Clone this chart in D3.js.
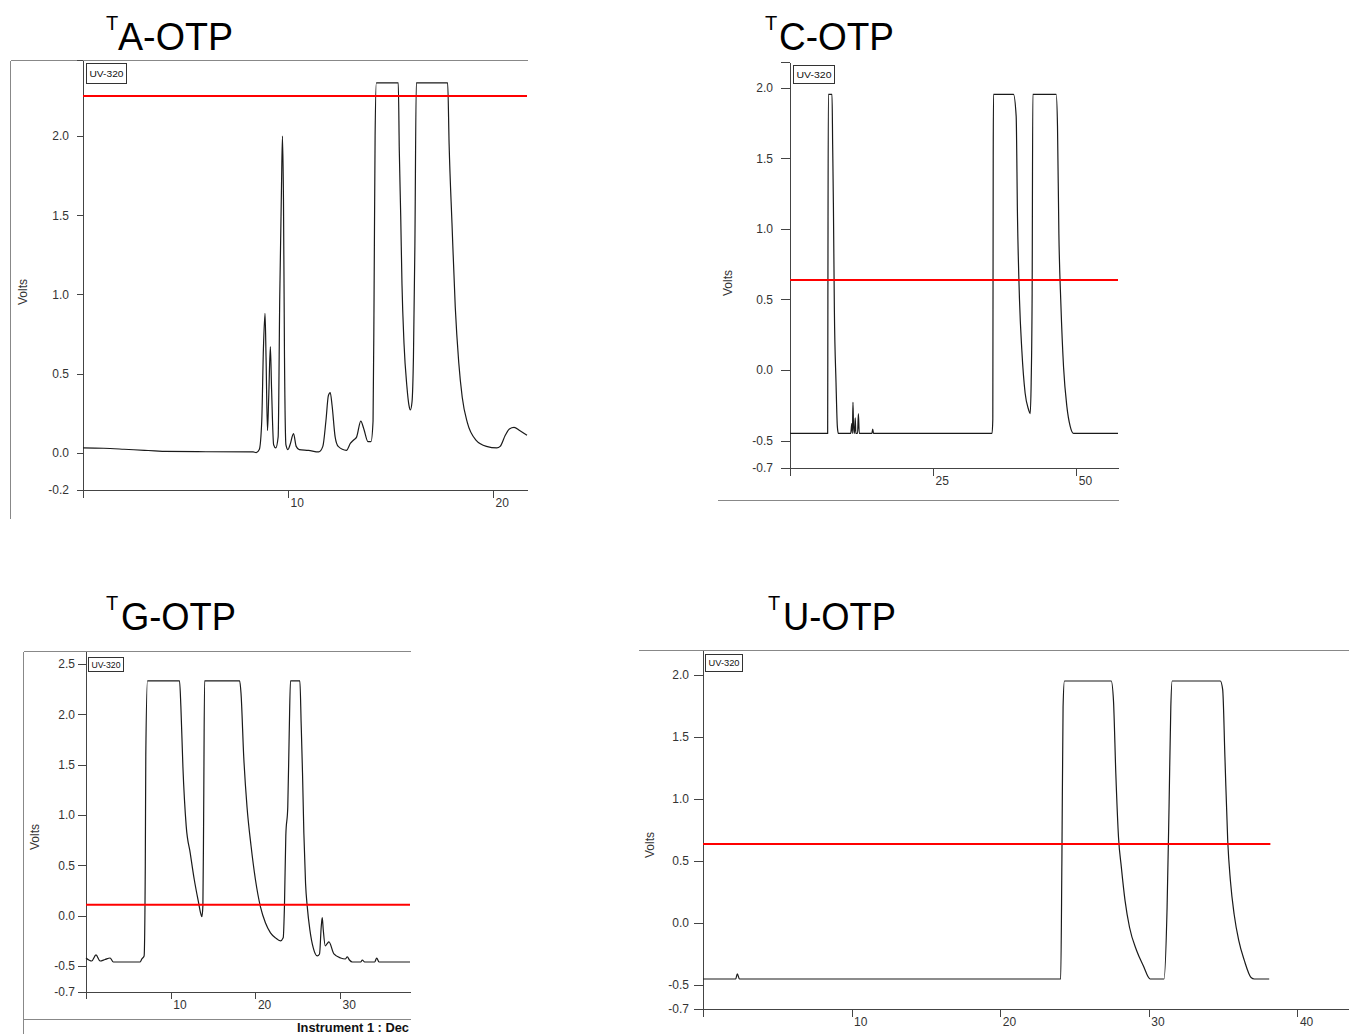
<!DOCTYPE html>
<meta charset="utf-8">
<style>
body { margin: 0; background: #fff; }
svg { display: block; font-family: "Liberation Sans", Arial, sans-serif; }
.axis path, .axis line { stroke: #444; shape-rendering: crispEdges; }
.axis text { fill: #333; font-size: 12px; font-family: "Liberation Sans", Arial, sans-serif; }
.frame { stroke: #888; stroke-width: 1px; shape-rendering: crispEdges; }
.trace { fill: none; stroke: #1a1a1a; stroke-width: 1.2px; stroke-linejoin: round; }
.cutoff { stroke: #f00; stroke-width: 2px; }
.legend rect { fill: #fff; stroke: #333; stroke-width: 1px; shape-rendering: crispEdges; }
.legend text { fill: #111; font-size: 9px; }
</style>
<svg width="1349" height="1034"></svg>
<script src="https://d3js.org/d3.v7.min.js"></script>
<script>

var titles = ["A-OTP", "C-OTP", "G-OTP", "U-OTP"];
var detector = "UV-320";
var yTitle = "Volts";
var footer = "Instrument 1 : Dec";

// [minutes, volts]
var taTrace = [[0,0.03],[1,0.028],[2,0.022],[3,0.015],[3.5,0.012],[4,0.008],[6,0.006],[8.3,0.005],[8.45,0.0],
  [8.6,0.02],[8.72,0.2],[8.8,0.65],[8.88,0.88],[8.93,0.6],[9.0,0.14],[9.06,0.35],[9.14,0.67],[9.2,0.4],[9.3,0.05],
  [9.4,0.03],[9.52,0.1],[9.6,1.0],[9.68,1.65],[9.73,2.0],[9.78,1.6],[9.83,0.6],[9.9,0.05],[10.0,0.02],[10.1,0.05],
  [10.27,0.12],[10.4,0.04],[10.55,0.02],[11.0,0.015],[11.5,0.005],[11.7,0.04],[11.85,0.2],[11.97,0.36],[12.06,0.38],
  [12.15,0.3],[12.3,0.1],[12.45,0.04],[12.85,0.015],[13.05,0.06],[13.2,0.08],[13.35,0.1],[13.55,0.2],[13.7,0.15],
  [13.9,0.07],[14.05,0.07],[14.15,0.2],[14.2,1.0],[14.25,2.0],[14.31,2.335],[15.38,2.335],[15.43,1.91],[15.5,1.49],
  [15.56,1.07],[15.66,0.69],[15.8,0.42],[15.9,0.3],[15.97,0.27],[16.05,0.32],[16.12,0.6],[16.19,1.3],[16.26,2.335],
  [17.79,2.335],[17.86,1.95],[18.0,1.45],[18.16,0.92],[18.33,0.57],[18.5,0.35],[18.75,0.19],[19.17,0.08],[19.68,0.04],
  [20.19,0.03],[20.35,0.04],[20.6,0.11],[20.8,0.15],[21.03,0.16],[21.3,0.14],[21.66,0.11]];

var tcTrace = [[0,-0.45],[6.58,-0.45],[6.62,0.5],[6.7,1.955],[7.34,1.955],[7.45,1.6],[7.58,1.18],[7.75,0.43],
  [8.04,-0.09],[8.27,-0.4],[8.45,-0.45],[10.6,-0.45],[10.8,-0.38],[10.9,-0.45],[11.0,-0.23],[11.1,-0.4],[11.25,-0.45],
  [11.4,-0.34],[11.5,-0.45],[11.8,-0.45],[11.95,-0.31],[12.1,-0.45],[14.3,-0.45],[14.45,-0.42],[14.6,-0.45],
  [35.3,-0.45],[35.43,-0.35],[35.5,1.5],[35.55,1.955],[39.04,1.955],[39.51,1.8],[39.74,1.09],[40.09,0.5],[40.5,0.14],
  [41.08,-0.165],[41.67,-0.28],[41.96,-0.31],[42.13,-0.09],[42.3,0.54],[42.42,1.955],[46.5,1.955],[46.73,1.73],
  [46.97,0.97],[47.32,0.47],[47.79,0.02],[48.37,-0.26],[48.95,-0.4],[49.53,-0.45],[57.3,-0.45]];

var tgTrace = [[0,-0.42],[0.67,-0.45],[1.18,-0.39],[1.66,-0.45],[2.25,-0.435],[2.84,-0.42],[3.23,-0.46],[6.39,-0.46],
  [6.59,-0.43],[6.86,-0.4],[7.0,0.5],[7.06,1.6],[7.26,2.334],[11.04,2.334],[11.2,2.08],[11.44,1.48],[11.83,0.89],
  [12.31,0.62],[12.78,0.36],[13.29,0.13],[13.55,0.02],[13.68,-0.01],[13.8,0.1],[13.89,1.0],[14.0,2.334],[18.14,2.334],
  [18.3,2.21],[18.62,1.58],[19.01,1.08],[19.49,0.69],[20.0,0.36],[20.59,0.09],[21.18,-0.07],[21.78,-0.17],[22.37,-0.22],
  [22.96,-0.25],[23.28,-0.22],[23.43,0.1],[23.59,0.8],[23.82,1.08],[23.99,1.81],[24.14,2.334],[25.25,2.334],[25.4,1.91],
  [25.56,1.42],[25.72,0.82],[25.92,0.32],[26.12,0.09],[26.43,-0.14],[26.83,-0.32],[27.3,-0.4],[27.57,-0.38],
  [27.77,-0.11],[27.89,-0.02],[28.01,-0.14],[28.25,-0.3],[28.45,-0.28],[28.68,-0.26],[29.27,-0.38],[30.06,-0.42],
  [30.6,-0.43],[30.85,-0.41],[31.1,-0.44],[31.44,-0.46],[32.43,-0.46],[32.62,-0.44],[32.9,-0.46],[34.08,-0.46],
  [34.32,-0.42],[34.59,-0.46],[38.25,-0.46]];

var tuTrace = [[0,-0.452],[2.2,-0.452],[2.31,-0.41],[2.45,-0.452],[24.07,-0.452],[24.15,0.5],[24.23,1.74],[24.32,1.95],
  [27.47,1.95],[27.62,1.795],[27.78,1.2],[27.96,0.69],[28.15,0.45],[28.4,0.18],[28.7,-0.035],[29.17,-0.22],
  [29.63,-0.345],[30.09,-0.452],[31.02,-0.452],[31.23,0.13],[31.36,0.93],[31.48,1.74],[31.57,1.95],[34.81,1.95],
  [34.97,1.88],[35.12,1.34],[35.31,0.66],[35.49,0.34],[35.74,0.07],[36.05,-0.14],[36.42,-0.3],[36.88,-0.44],
  [37.1,-0.452],[38.1,-0.452]];

// red threshold lines: level and end time
var cutoffLevels = [2.253, 0.638, 0.11, 0.637];
var cutoffEnds = [21.66, 57.3, 38.25, 38.18];

var taYTicks = [-0.2355, 0, 0.5, 1, 1.5, 2, 2.48];
var taYLabels = ["-0.2", "0.0", "0.5", "1.0", "1.5", "2.0", ""];
var tcYTicks = [-0.695, -0.5, 0, 0.5, 1, 1.5, 2, 2.184];
var tcYLabels = ["-0.7", "-0.5", "0.0", "0.5", "1.0", "1.5", "2.0", ""];
var tgYTicks = [-0.758, -0.5, 0, 0.5, 1, 1.5, 2, 2.5];
var tgYLabels = ["-0.7", "-0.5", "0.0", "0.5", "1.0", "1.5", "2.0", "2.5"];
var tuYTicks = [-0.694, -0.5, 0, 0.5, 1, 1.5, 2];
var tuYLabels = ["-0.7", "-0.5", "0.0", "0.5", "1.0", "1.5", "2.0"];

var taXTicks = [0, 10, 20];
var tcXTicks = [0, 25, 50];
var tgXTicks = [0, 10, 20, 30];
var tuXTicks = [0, 10, 20, 30, 40];

var svg = d3.select("svg");

var panels = [
  { title: titles[0], trace: taTrace, yTicks: taYTicks, yLabels: taYLabels, xTicks: taXTicks,
    xDomain: [0, 21.66], yDomain: [-0.2355, 2.48], left: 83, right: 527, top: 60, bottom: 490,
    ySize: 6, yPad: 8, xSize: 8,
    titleX: 118, titleY: 50, titleW: 115, supX: 106, supY: 30,
    legend: [86, 63, 40, 20], volts: [23, 292],
    frame: [[10, 60, 527, 60], [10, 60, 10, 518]] },
  { title: titles[1], trace: tcTrace, yTicks: tcYTicks, yLabels: tcYLabels, xTicks: tcXTicks,
    xDomain: [0, 57.3], yDomain: [-0.695, 2.184], left: 790, right: 1118, top: 62, bottom: 468,
    ySize: 9, yPad: 8, xSize: 8,
    titleX: 779, titleY: 50, titleW: 115, supX: 765, supY: 30,
    legend: [793, 65, 41, 18], volts: [728, 283],
    frame: [[717, 500, 1118, 500]] },
  { title: titles[2], trace: tgTrace, yTicks: tgYTicks, yLabels: tgYLabels, xTicks: tgXTicks,
    xDomain: [0, 38.25], yDomain: [-0.758, 2.63], left: 86, right: 410, top: 651, bottom: 992,
    ySize: 8, yPad: 3, xSize: 7,
    titleX: 121, titleY: 630, titleW: 115, supX: 106, supY: 610,
    legend: [88, 657, 35, 14], volts: [35, 837],
    frame: [[23, 651, 410, 651], [23, 651, 23, 1034], [23, 1019, 410, 1019]] },
  { title: titles[3], trace: tuTrace, yTicks: tuYTicks, yLabels: tuYLabels, xTicks: tuXTicks,
    xDomain: [0, 43.47], yDomain: [-0.694, 2.2], left: 703, right: 1349, top: 650, bottom: 1009,
    ySize: 9, yPad: 5, xSize: 8,
    titleX: 783, titleY: 630, titleW: 113, supX: 768, supY: 610,
    legend: [705, 654, 37, 17], volts: [650, 845],
    frame: [[638, 650, 1349, 650]] }
];

panels.forEach(drawPanel);

// status line under the G panel
svg.append("text")
    .attr("x", 297)
    .attr("y", 1032)
    .attr("textLength", 112)
    .attr("lengthAdjust", "spacingAndGlyphs")
    .style("font-size", "13px")
    .style("font-weight", "bold")
    .style("fill", "#111")
    .text(footer);

function drawPanel(p, i) {
  var x = d3.scaleLinear().domain(p.xDomain).range([p.left, p.right]);
  var y = d3.scaleLinear().domain(p.yDomain).range([p.bottom, p.top]);
  var g = svg.append("g");

  g.selectAll("line.frame")
    .data(p.frame)
    .enter().append("line")
      .attr("class", "frame")
      .attr("x1", function(d) { return d[0] + 0.5; })
      .attr("y1", function(d) { return d[1] + 0.5; })
      .attr("x2", function(d) { return d[2] + 0.5; })
      .attr("y2", function(d) { return d[3] + 0.5; });

  // title with superscript T
  g.append("text")
      .attr("x", p.supX)
      .attr("y", p.supY)
      .style("font-size", "20px")
      .style("fill", "#000")
      .text("T");
  g.append("text")
      .attr("x", p.titleX)
      .attr("y", p.titleY)
      .attr("textLength", p.titleW)
      .attr("lengthAdjust", "spacingAndGlyphs")
      .style("font-size", "39px")
      .style("fill", "#000")
      .text(p.title);

  var yAxis = d3.axisLeft(y)
      .tickValues(p.yTicks)
      .tickSize(p.ySize)
      .tickSizeOuter(0)
      .tickPadding(p.yPad)
      .tickFormat(function(d, k) { return p.yLabels[k]; });

  g.append("g")
      .attr("class", "axis")
      .attr("transform", "translate(" + p.left + ",0)")
      .call(yAxis);

  var xAxis = d3.axisBottom(x)
      .tickValues(p.xTicks)
      .tickSize(p.xSize)
      .tickSizeOuter(0)
      .tickFormat(function(d) { return d === 0 ? "" : d; });

  var xg = g.append("g")
      .attr("class", "axis")
      .attr("transform", "translate(0," + p.bottom + ")")
      .call(xAxis);
  xg.selectAll("text")
      .attr("x", 2)
      .attr("y", 8)
      .attr("text-anchor", "start");

  g.append("text")
      .attr("transform", "translate(" + p.volts[0] + "," + p.volts[1] + ") rotate(-90)")
      .attr("text-anchor", "middle")
      .attr("dy", "0.35em")
      .style("font-size", "12px")
      .style("fill", "#333")
      .text(yTitle);

  var leg = g.append("g").attr("class", "legend");
  leg.append("rect")
      .attr("x", p.legend[0] + 0.5)
      .attr("y", p.legend[1] + 0.5)
      .attr("width", p.legend[2])
      .attr("height", p.legend[3]);
  leg.append("text")
      .attr("x", p.legend[0] + p.legend[2] / 2 + 0.5)
      .attr("y", p.legend[1] + p.legend[3] / 2 + 0.5)
      .attr("dy", "0.35em")
      .attr("text-anchor", "middle")
      .attr("textLength", p.legend[2] - 6)
      .attr("lengthAdjust", "spacingAndGlyphs")
      .text(detector);

  var line = d3.line()
      .curve(d3.curveMonotoneX)
      .x(function(d) { return x(d[0]); })
      .y(function(d) { return y(d[1]); });

  g.append("path")
      .datum(p.trace)
      .attr("class", "trace")
      .attr("d", line);

  g.append("line")
      .attr("class", "cutoff")
      .attr("x1", x(0))
      .attr("x2", x(cutoffEnds[i]))
      .attr("y1", y(cutoffLevels[i]))
      .attr("y2", y(cutoffLevels[i]));
}

</script>
